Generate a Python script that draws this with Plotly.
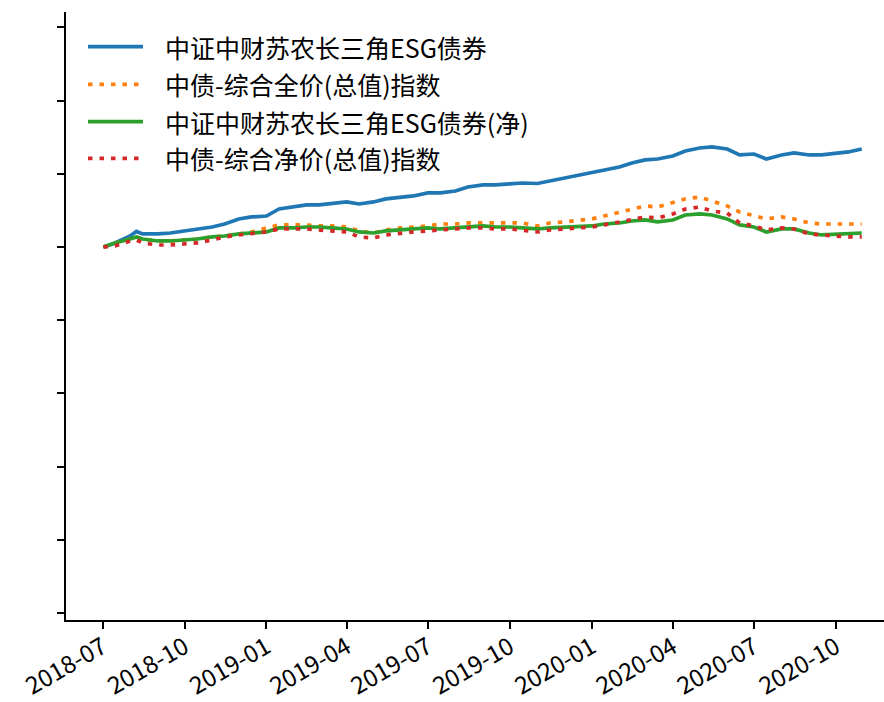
import plotly.graph_objects as go

dates = [
    "2018-07-02", "2018-07-15", "2018-08-01", "2018-08-08", "2018-08-15", "2018-09-01", "2018-09-15",
    "2018-10-01", "2018-10-15", "2018-11-01", "2018-11-15", "2018-12-01", "2018-12-15",
    "2019-01-01", "2019-01-15", "2019-02-01", "2019-02-15", "2019-03-01", "2019-03-15",
    "2019-04-01", "2019-04-15", "2019-05-01", "2019-05-15", "2019-06-01", "2019-06-15",
    "2019-07-01", "2019-07-15", "2019-08-01", "2019-08-15", "2019-09-01", "2019-09-15",
    "2019-10-01", "2019-10-15", "2019-11-01", "2019-11-15", "2019-12-01", "2019-12-15",
    "2020-01-01", "2020-01-15", "2020-02-01", "2020-02-15", "2020-03-01", "2020-03-15",
    "2020-04-01", "2020-04-15", "2020-05-01", "2020-05-15", "2020-06-01", "2020-06-15",
    "2020-07-01", "2020-07-15", "2020-08-01", "2020-08-15", "2020-09-01", "2020-09-15",
    "2020-10-01", "2020-10-15", "2020-10-30",
]

esg_full = [
    1.0000, 1.0055, 1.0150, 1.0212, 1.0178, 1.0178, 1.0191, 1.0219, 1.0246, 1.0273, 1.0314, 1.0383, 1.0410,
    1.0423, 1.0519, 1.0546, 1.0574, 1.0574, 1.0587, 1.0615, 1.0587, 1.0615, 1.0656, 1.0683, 1.0697,
    1.0738, 1.0738, 1.0765, 1.0820, 1.0847, 1.0847, 1.0861, 1.0874, 1.0867, 1.0902, 1.0943, 1.0970,
    1.1011, 1.1052, 1.1093, 1.1148, 1.1189, 1.1202, 1.1243, 1.1311, 1.1352, 1.1366, 1.1339, 1.1257,
    1.1270, 1.1202, 1.1257, 1.1284, 1.1257, 1.1257, 1.1284, 1.1298, 1.1339,
]

cb_full = [
    1.0000, 1.0055, 1.0109, 1.0137, 1.0109, 1.0082, 1.0082, 1.0096, 1.0109, 1.0137, 1.0150, 1.0178, 1.0205,
    1.0260, 1.0301, 1.0301, 1.0301, 1.0287, 1.0287, 1.0273, 1.0219, 1.0191, 1.0232, 1.0260, 1.0273,
    1.0287, 1.0314, 1.0314, 1.0328, 1.0328, 1.0328, 1.0328, 1.0328, 1.0287, 1.0328, 1.0342, 1.0355,
    1.0383, 1.0423, 1.0478, 1.0519, 1.0560, 1.0546, 1.0601, 1.0656, 1.0683, 1.0628, 1.0560, 1.0478,
    1.0423, 1.0383, 1.0410, 1.0383, 1.0328, 1.0314, 1.0314, 1.0314, 1.0314,
]

esg_net = [
    1.0000, 1.0055, 1.0109, 1.0137, 1.0109, 1.0082, 1.0082, 1.0096, 1.0109, 1.0137, 1.0150, 1.0178, 1.0191,
    1.0205, 1.0260, 1.0260, 1.0273, 1.0273, 1.0260, 1.0246, 1.0205, 1.0191, 1.0219, 1.0232, 1.0246,
    1.0260, 1.0246, 1.0260, 1.0273, 1.0287, 1.0273, 1.0273, 1.0260, 1.0246, 1.0260, 1.0273, 1.0273,
    1.0287, 1.0314, 1.0328, 1.0355, 1.0369, 1.0342, 1.0369, 1.0437, 1.0451, 1.0437, 1.0383, 1.0301,
    1.0273, 1.0205, 1.0246, 1.0246, 1.0191, 1.0164, 1.0178, 1.0178, 1.0191,
]

cb_net = [
    1.0000, 1.0014, 1.0082, 1.0096, 1.0055, 1.0027, 1.0027, 1.0041, 1.0055, 1.0096, 1.0137, 1.0164, 1.0178,
    1.0205, 1.0246, 1.0246, 1.0246, 1.0232, 1.0219, 1.0205, 1.0137, 1.0123, 1.0164, 1.0191, 1.0205,
    1.0219, 1.0232, 1.0246, 1.0260, 1.0260, 1.0246, 1.0246, 1.0232, 1.0205, 1.0232, 1.0246, 1.0260,
    1.0273, 1.0301, 1.0342, 1.0369, 1.0410, 1.0396, 1.0451, 1.0519, 1.0546, 1.0492, 1.0464, 1.0328,
    1.0287, 1.0232, 1.0260, 1.0246, 1.0178, 1.0164, 1.0150, 1.0137, 1.0137,
]

names = ["中证中财苏农长三角ESG债券", "中债-综合全价(总值)指数", "中证中财苏农长三角ESG债券(净)", "中债-综合净价(总值)指数"]
series = [esg_full, cb_full, esg_net, cb_net]
colors = ["#1f77b4", "#ff7f0e", "#2ca02c", "#d62728"]
dashes = ["solid", "4.5px,7px", "solid", "4.5px,7px"]

x_ticks = ["2018-07-01", "2018-10-01", "2019-01-01", "2019-04-01", "2019-07-01", "2019-10-01",
           "2020-01-01", "2020-04-01", "2020-07-01", "2020-10-01"]
x_ticklabels = ["2018-07", "2018-10", "2019-01", "2019-04", "2019-07", "2019-10",
                "2020-01", "2020-04", "2020-07", "2020-10"]

FONT = "Noto Sans CJK SC, Noto Sans, DejaVu Sans, sans-serif"

fig = go.Figure()
for name, vals, col, dsh in zip(names, series, colors, dashes):
    fig.add_trace(go.Scatter(x=dates, y=vals, mode="lines", name=name,
                             line=dict(color=col, width=3.7, dash=dsh), showlegend=False))

# custom legend (matplotlib-like)
W, H = 884, 702
L, R, T, B = 66, 0, 12, 82
pw, ph = W - L - R, H - T - B
rows = [46.7, 84.3, 121.7, 158.3]
for name, col, dsh, py in zip(names, colors, dashes, rows):
    yp = (H - B - py) / ph
    fig.add_shape(type="line", xref="paper", yref="paper",
                  x0=(88 - L) / pw, x1=(143 - L) / pw, y0=yp, y1=yp,
                  line=dict(color=col, width=3.7, dash=dsh))
    fig.add_annotation(xref="paper", yref="paper", x=(163 - L) / pw, y=yp,
                       text=name, showarrow=False, xanchor="left", yanchor="middle",
                       font=dict(family=FONT, size=25, color="black"))

fig.update_layout(
    width=W, height=H,
    margin=dict(l=L, r=R, t=T, b=B, autoexpand=False),
    paper_bgcolor="white", plot_bgcolor="white",
    font=dict(family=FONT, size=24, color="black"),
    xaxis=dict(
        type="date", range=["2018-05-21", "2020-11-24"], automargin=False,
        tickmode="array", tickvals=x_ticks, ticktext=x_ticklabels,
        tickangle=-30, ticks="outside", ticklen=7, tickwidth=2, tickcolor="black",
        ticklabelstandoff=-5,
        showline=True, linecolor="black", linewidth=2, showgrid=False, zeroline=False,
        tickfont=dict(family=FONT, size=24, color="black"),
    ),
    yaxis=dict(
        range=[0.4904, 1.321], tickmode="linear", tick0=0.5, dtick=0.1, automargin=False,
        showticklabels=False, ticks="outside", ticklen=7, tickwidth=2, tickcolor="black",
        showline=True, linecolor="black", linewidth=2, showgrid=False, zeroline=False,
    ),
)

fig.write_html(
    "out.html",
    config={"displayModeBar": False},
    post_script="document.body.style.margin='0';document.body.style.overflow='hidden';",
)
